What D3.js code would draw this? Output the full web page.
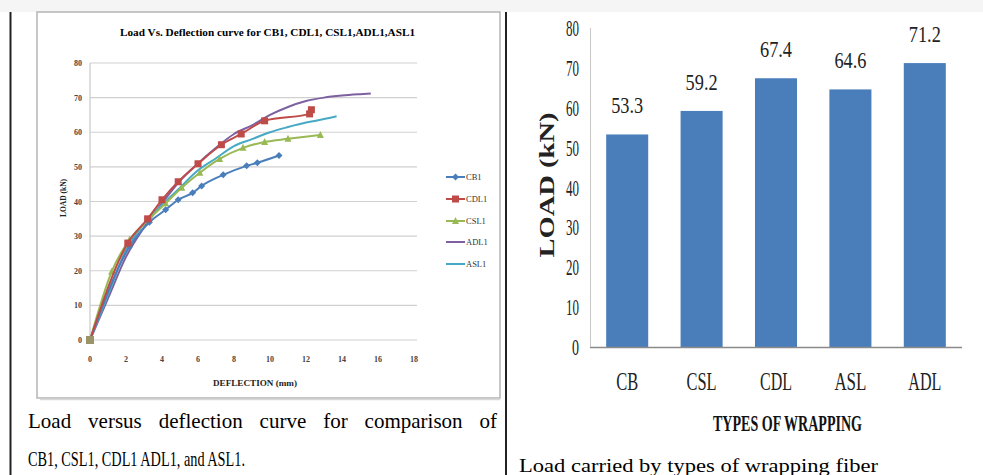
<!DOCTYPE html>
<html><head><meta charset="utf-8">
<script src="https://cdn.jsdelivr.net/npm/d3@7"></script>
<style>html,body{margin:0;padding:0;background:#fff;}svg{display:block;font-family:"Liberation Serif","Times New Roman",serif;}</style>
</head><body>
<svg id="c" width="983" height="475"></svg>
<script>
// ---- Left chart data (deflection mm, load kN) ----
const seriesNames = ["CB1","CDL1","CSL1","ADL1","ASL1"];
const cb1  = [[0,0],[2.2,27],[3.3,34],[4.2,37.6],[4.9,40.5],[5.7,42.5],[6.2,44.5],[7.4,47.7],[8.7,50.3],[9.3,51.2],[10.5,53.3]];
const cdl1 = [[0,0],[2.1,28],[3.2,35],[4,40.5],[4.9,45.7],[6,50.9],[7.3,56.4],[8.4,59.5],[9.7,63.3],[12.2,65.3],[12.3,66.5]];
const csl1 = [[0,0],[1.2,19.7],[2.2,29],[3.2,34.5],[4.2,39.5],[5.1,44],[6.1,48.3],[7.2,52.3],[8.5,55.5],[9.7,57.2],[11,58.1],[12.8,59.2]];
const adl1 = [[0,0],[1,12],[2,24],[3,32.5],[4,39.5],[5,46],[6,51],[7,55.5],[8,59.5],[9,62],[10,65],[11,67.3],[12,69],[13,70],[14,70.6],[15,71],[15.6,71.2]];
const asl1 = [[0,0],[1,13],[2,26],[3,33.5],[4,39],[5,44],[6,49],[7,52.5],[8,56],[9,58],[10,60],[11,61.5],[12,62.8],[13,63.8],[13.7,64.6]];
const xTicksL = [0,2,4,6,8,10,12,14,16,18];
const yTicksL = [0,10,20,30,40,50,60,70,80];
const seriesColors = ["#4a7ebb","#be4b48","#98b954","#7d60a0","#46aac5"];
const seriesMarkers = ["diamond","square","triangle","none","none"];

// ---- Right chart data ----
const categories = ["CB","CSL","CDL","ASL","ADL"];
const loads = [53.3,59.2,67.4,64.6,71.2];
const yTicksR = [0,10,20,30,40,50,60,70,80];

const svg = d3.select("#c");

svg.append("rect").attr("x",0).attr("y",0).attr("width",983).attr("height",12).attr("fill","#f5f5f5");
svg.append("line").attr("x1",10.5).attr("x2",10.5).attr("y1",12).attr("y2",475).attr("stroke","#222").attr("stroke-width",2);
svg.append("line").attr("x1",506).attr("x2",506).attr("y1",12).attr("y2",475).attr("stroke","#222").attr("stroke-width",2);
svg.append("rect").attr("x",37).attr("y",12).attr("width",463).attr("height",386).attr("fill","#fff").attr("stroke","#b5b5b5").attr("stroke-width",1.5);
svg.append("line").attr("x1",40).attr("x2",500).attr("y1",399.5).attr("y2",399.5).attr("stroke","#d8d8d8").attr("stroke-width",1.5);

function txt(g, s, x, y, opt){
  const t = g.append("text").attr("x",x).attr("y",y).text(s)
    .attr("font-size",opt.size).attr("fill",opt.fill||"#000")
    .attr("font-weight",opt.bold?"bold":"normal")
    .attr("text-anchor",opt.anchor||"start");
  if(opt.len){t.attr("textLength",opt.len).attr("lengthAdjust",opt.adj||"spacingAndGlyphs");}
  if(opt.rot){t.attr("transform",`rotate(${opt.rot},${x},${y})`);}
  return t;
}

// ===== Left chart =====
const xL = d3.scaleLinear().domain([0,18]).range([90,414]);
const yL = d3.scaleLinear().domain([0,80]).range([340,63]);
const gL = svg.append("g");
gL.selectAll("line.grid").data(yTicksL).join("line")
  .attr("x1",90).attr("x2",417).attr("y1",d=>yL(d)).attr("y2",d=>yL(d))
  .attr("stroke","#d0d0d0").attr("stroke-width",1.2);
gL.append("line").attr("x1",90).attr("x2",90).attr("y1",63).attr("y2",340).attr("stroke","#c8c8c8").attr("stroke-width",1.2);
yTicksL.forEach(d=>txt(gL,String(d),82,yL(d)+3,{size:8,fill:"#444",anchor:"end",bold:true}));
xTicksL.forEach(d=>txt(gL,String(d),xL(d),362,{size:8,fill:"#444",anchor:"middle",bold:true}));
txt(gL,"Load Vs. Deflection curve for CB1, CDL1, CSL1,ADL1,ASL1",120,36,{size:11,bold:true,len:295});
txt(gL,"DEFLECTION (mm)",213,386,{size:7.5,bold:true,len:84,fill:"#222"});
txt(gL,"LOAD (kN)",66,198,{size:7.5,bold:true,anchor:"middle",rot:-90,fill:"#222"});

const allSeries = [cb1,cdl1,csl1,adl1,asl1];
const line = d3.line().x(d=>xL(d[0])).y(d=>yL(d[1])).curve(d3.curveMonotoneX);
function marker(g, type, x, y, color){
  if(type==="diamond") g.append("path").attr("d",`M${x},${y-3.5}L${x+3.5},${y}L${x},${y+3.5}L${x-3.5},${y}Z`).attr("fill",color);
  else if(type==="square") g.append("rect").attr("x",x-3.5).attr("y",y-3.5).attr("width",7).attr("height",7).attr("fill",color);
  else if(type==="triangle") g.append("path").attr("d",`M${x},${y-4}L${x+3.5},${y+3}L${x-3.5},${y+3}Z`).attr("fill",color);
}
[3,4,2,0,1].forEach(i=>{
  gL.append("path").datum(allSeries[i]).attr("d",line).attr("fill","none")
    .attr("stroke",seriesColors[i]).attr("stroke-width",2);
  allSeries[i].forEach(p=>marker(gL,seriesMarkers[i],xL(p[0]),yL(p[1]),seriesColors[i]));
});
gL.append("rect").attr("x",xL(0)-4).attr("y",yL(0)-4).attr("width",8).attr("height",8).attr("fill","#9a9468");

const legY = [177,199,221,242,264];
seriesNames.forEach((n,i)=>{
  gL.append("line").attr("x1",446).attr("x2",465).attr("y1",legY[i]).attr("y2",legY[i]).attr("stroke",seriesColors[i]).attr("stroke-width",2);
  marker(gL,seriesMarkers[i],455.5,legY[i],seriesColors[i]);
  txt(gL,n,466,legY[i]+3,{size:8.5,fill:"#333"});
});

// left caption: line 1 justified by word spacing
const words = "Load versus deflection curve for comparison of".split(" ");
const wl = words.map(w=>{const t=txt(svg,w,0,428,{size:21});const l=t.node().getComputedTextLength();t.remove();return l;});
const gap = (469 - d3.sum(wl))/(words.length-1);
let cx = 28;
words.forEach((w,i)=>{txt(svg,w,cx,428,{size:21});cx += wl[i]+gap;});
txt(svg,"CB1, CSL1, CDL1 ADL1, and ASL1.",28,466,{size:21,len:217});

// ===== Right chart =====
const xR = d3.scaleBand().domain(categories).range([590,962]).paddingInner(0.435).paddingOuter(0.2175);
const yR = d3.scaleLinear().domain([0,80]).range([347,28]);
const gR = svg.append("g");
gR.append("line").attr("x1",590.5).attr("x2",590.5).attr("y1",28).attr("y2",347).attr("stroke","#c8c8c8").attr("stroke-width",1);
gR.selectAll("rect.bar").data(loads).join("rect")
  .attr("x",(d,i)=>xR(categories[i])).attr("width",xR.bandwidth())
  .attr("y",d=>yR(d)).attr("height",d=>yR(0)-yR(d)).attr("fill","#4a7ebb");
gR.append("line").attr("x1",590).attr("x2",962).attr("y1",347.5).attr("y2",347.5).attr("stroke","#8a8a8a").attr("stroke-width",1.5);
yTicksR.forEach(d=>txt(gR,String(d),579,yR(d)+8,{size:23,anchor:"end",len:d<10?7:13,fill:"#222"}));
loads.forEach((d,i)=>txt(gR,d.toFixed(1),xR(categories[i])+xR.bandwidth()/2,yR(d)-21,{size:23,anchor:"middle",len:32,fill:"#222"}));
const catLen = [22,30,32,32,33];
categories.forEach((c,i)=>txt(gR,c,xR(c)+xR.bandwidth()/2,390,{size:25,anchor:"middle",len:catLen[i],fill:"#222"}));
txt(gR,"LOAD (kN)",554,185,{size:21,bold:true,anchor:"middle",rot:-90,len:145,fill:"#222"});
txt(gR,"TYPES OF WRAPPING",713,431,{size:23,bold:true,len:149,fill:"#111"});
txt(svg,"Load carried by types of wrapping fiber",519,472,{size:19,len:359});
</script>
</body></html>
